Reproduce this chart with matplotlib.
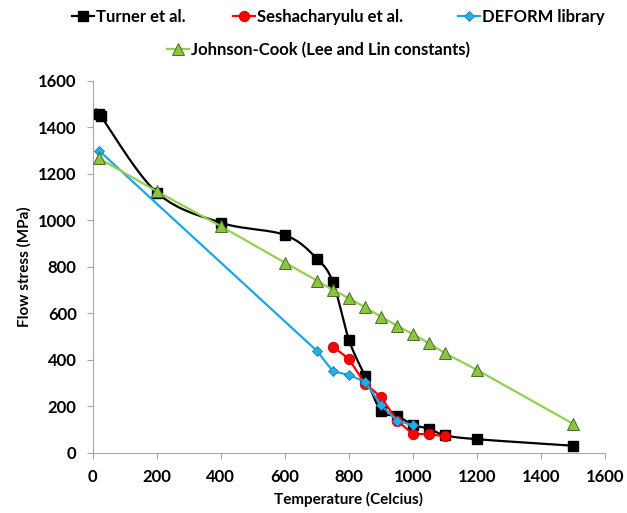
import numpy as np
import matplotlib
matplotlib.use("Agg")
import matplotlib.pyplot as plt
from matplotlib.lines import Line2D

plt.rcParams['font.family'] = ['Lato', 'DejaVu Sans']

# ---- data ----
turner_T = [20, 25, 200, 400, 600, 700, 750, 800, 850, 900, 950, 1000, 1050, 1100, 1200, 1500]
turner_S = [1460, 1450, 1120, 990, 937, 835, 733, 485, 330, 180, 158, 120, 103, 75, 58, 30]

sesh_T = [750, 800, 850, 900, 950, 1000, 1050, 1100]
sesh_S = [457, 403, 297, 240, 138, 80, 80, 70]

deform_T = [20, 700, 750, 800, 850, 900, 950, 1000]
deform_S = [1300, 438, 350, 335, 305, 205, 138, 118]

jc_T = [20, 200, 400, 600, 700, 750, 800, 850, 900, 950, 1000, 1050, 1100, 1200, 1500]
jc_S = [1267, 1125, 975, 818, 741, 700, 665, 626, 585, 547, 510, 471, 428, 356, 124]

x_ticks = [0, 200, 400, 600, 800, 1000, 1200, 1400, 1600]
y_ticks = [0, 200, 400, 600, 800, 1000, 1200, 1400, 1600]

series_names = ['Turner et al.', 'Seshacharyulu et al.', 'DEFORM library',
                'Johnson-Cook (Lee and Lin constants)']


def smooth(xs, ys, n=30):
    """Bezier smoothing through the points (like a spreadsheet's smoothed line)."""
    p = np.column_stack([xs, ys]).astype(float)
    out = []
    m = len(p)
    for i in range(m - 1):
        p0 = p[i - 1] if i > 0 else p[i]
        p1 = p[i]
        p2 = p[i + 1]
        p3 = p[i + 2] if i + 2 < m else p[i + 1]
        c1 = p1 + (p2 - p0) / 6.0
        c2 = p2 - (p3 - p1) / 6.0
        t = np.linspace(0, 1, n)[:, None]
        seg = ((1 - t) ** 3) * p1 + 3 * ((1 - t) ** 2) * t * c1 + 3 * (1 - t) * t ** 2 * c2 + t ** 3 * p2
        out.append(seg if i == 0 else seg[1:])
    s = np.vstack(out)
    return s[:, 0], s[:, 1]


W, H = 627, 513
fig = plt.figure(figsize=(W / 100, H / 100), dpi=100)
ax = fig.add_axes([92.7 / W, 1 - 452.7 / H, (605.3 - 92.7) / W, (452.7 - 81) / H])

black = '#000000'
red = '#ff0000'
blue = '#1aa6e4'
green = '#92d050'

st_turner = dict(color=black, lw=1.6, marker='s', ms=7.5, mfc=black, mec=black)
st_sesh = dict(color=red, lw=1.6, marker='o', ms=7.5, mfc=red, mec='#c00000', mew=0.6)
st_def = dict(color=blue, lw=1.6, marker='D', ms=5.5, mfc='#22aee8', mec='#1a7fb0', mew=0.6)
st_jc = dict(color=green, lw=1.6, marker='^', ms=8, mfc='#8cc63f', mec='#4a6a2a', mew=0.7)

sx, sy = smooth(turner_T, turner_S)
ax.plot(sx, sy, color=black, lw=1.6, zorder=2)
ax.plot(turner_T, turner_S, ls='none', marker='s', ms=7.5, mfc=black, mec=black, zorder=3)
ax.plot(sesh_T, sesh_S, zorder=4, **st_sesh)
ax.plot(deform_T, deform_S, zorder=5, **st_def)
ax.plot(jc_T, jc_S, zorder=6, **st_jc)

ax.set_xlim(0, 1600)
ax.set_ylim(0, 1600)
ax.set_xticks(x_ticks)
ax.set_yticks(y_ticks)
ax.tick_params(axis='both', direction='out', length=4.5, width=0.8, color='#a6a6a6',
               labelsize=12, pad=7)
for lab in ax.get_xticklabels() + ax.get_yticklabels():
    lab.set_fontweight('bold')
for s in ['top', 'right']:
    ax.spines[s].set_visible(False)
for s in ['left', 'bottom']:
    ax.spines[s].set_color('#a6a6a6')
    ax.spines[s].set_linewidth(0.8)

ax.set_xlabel('Temperature (Celcius)', fontsize=11, fontweight='bold', labelpad=5)
ax.set_ylabel('Flow stress (MPa)', fontsize=11, fontweight='bold', labelpad=5)

handles = [Line2D([], [], **st_turner), Line2D([], [], **st_sesh),
           Line2D([], [], **st_def), Line2D([], [], **st_jc)]
anchors = [(72, 17), (233, 17), (458, 17), (167, 50)]
for h, name, (px, py) in zip(handles, series_names, anchors):
    fig.legend([h], [name], loc='center left', bbox_to_anchor=(px / W, 1 - py / H),
               frameon=False, handlelength=1.3, handletextpad=0.12,
               borderpad=0, borderaxespad=0,
               prop={'weight': 'bold', 'size': 12})

fig.savefig('out.png', dpi=100)
